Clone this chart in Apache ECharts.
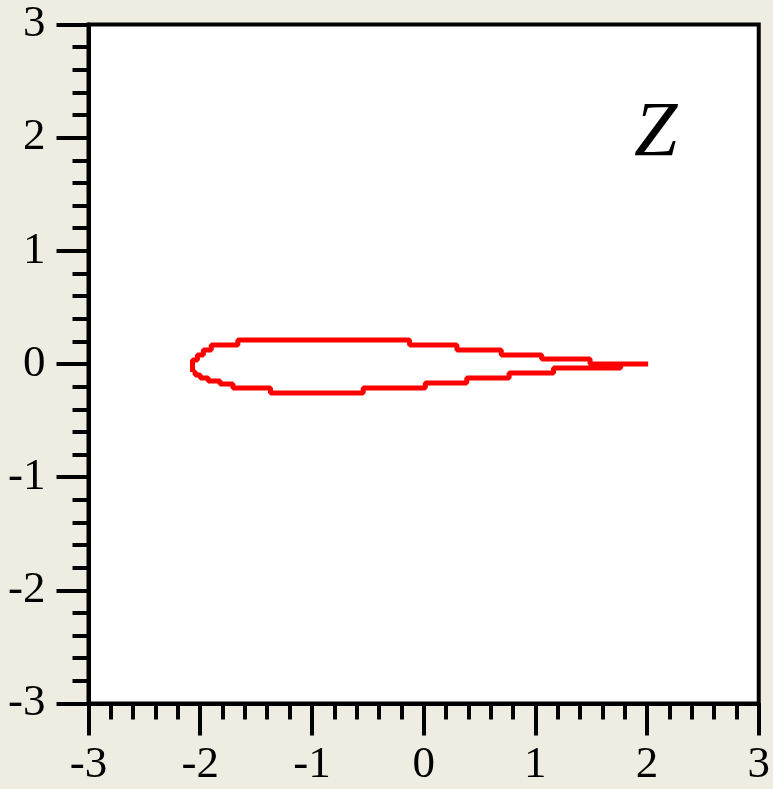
<!DOCTYPE html>
<html>
<head>
<meta charset="utf-8">
<script src="https://cdn.jsdelivr.net/npm/echarts@6/dist/echarts.min.js"></script>
<style>
html,body{margin:0;padding:0;background:#efece1;}
#c{width:773px;height:789px;}
</style>
</head>
<body>
<div id="c"></div>
<script>
// Contour vertices (data units), traced clockwise from the leftmost point
const contourX = [-2.069, -2.069, -2.025, -2.025, -1.972, -1.972, -1.901, -1.901, -1.663, -1.663,
  -0.126, -0.126, 0.298, 0.298, 0.695, 0.695, 1.057, 1.057, 1.490, 1.490, 2.010,
  1.763, 1.763, 1.163, 1.163, 0.765, 0.765, 0.386, 0.386, 0.015, 0.015, -0.541, -0.541,
  -1.371, -1.371, -1.707, -1.707, -1.822, -1.822, -1.928, -1.928, -1.999, -1.999, -2.043, -2.043, -2.069];
const contourY = [-0.071, 0.035, 0.035, 0.080, 0.080, 0.124, 0.124, 0.168, 0.168, 0.212,
  0.212, 0.168, 0.168, 0.124, 0.124, 0.080, 0.080, 0.044, 0.044, 0.000, 0.000,
  0.000, -0.035, -0.035, -0.080, -0.080, -0.124, -0.124, -0.168, -0.168, -0.212, -0.212, -0.256,
  -0.256, -0.212, -0.212, -0.177, -0.177, -0.150, -0.150, -0.124, -0.124, -0.097, -0.097, -0.071, -0.071];
const xTicks = [-3, -2, -1, 0, 1, 2, 3];
const yTicks = [-3, -2, -1, 0, 1, 2, 3];
const panelLabel = 'Z';

const pts = contourX.map((x, i) => [x, contourY[i]]);
const font = '"Liberation Serif", "Times New Roman", serif';

const chart = echarts.init(document.getElementById('c'));
const axisCommon = {
  type: 'value',
  min: xTicks[0],
  max: xTicks[xTicks.length - 1],
  interval: 1,
  splitLine: {show: false},
  axisLine: {show: true, onZero: false, lineStyle: {color: '#000', width: 4}},
  axisTick: {show: true, inside: false, length: 32, lineStyle: {color: '#000', width: 4}},
  minorTick: {show: true, splitNumber: 5, length: 16, lineStyle: {color: '#000', width: 4}},
  minorSplitLine: {show: false}
};
chart.setOption({
  backgroundColor: '#efece1',
  animation: false,
  grid: {left: 88.5, right: 5, top: 24.5, bottom: 85.5, show: true,
         backgroundColor: '#ffffff', borderColor: '#000', borderWidth: 4},
  xAxis: Object.assign({}, axisCommon, {
    position: 'bottom',
    axisLabel: {color: '#000', fontFamily: font, fontSize: 45, margin: 39,
                formatter: v => String(v)}
  }),
  yAxis: Object.assign({}, axisCommon, {
    min: yTicks[0], max: yTicks[yTicks.length - 1],
    position: 'left',
    axisLabel: {color: '#000', fontFamily: font, fontSize: 45, margin: 43,
                formatter: v => String(v)}
  }),
  graphic: [{
    type: 'text', left: 634, top: 95,
    style: {text: panelLabel, font: 'italic 78px ' + font, fill: '#000'}
  }],
  series: [{
    type: 'line',
    data: pts,
    showSymbol: false,
    symbol: 'none',
    lineStyle: {color: '#ff0000', width: 5},
    clip: false
  }]
});
</script>
</body>
</html>
